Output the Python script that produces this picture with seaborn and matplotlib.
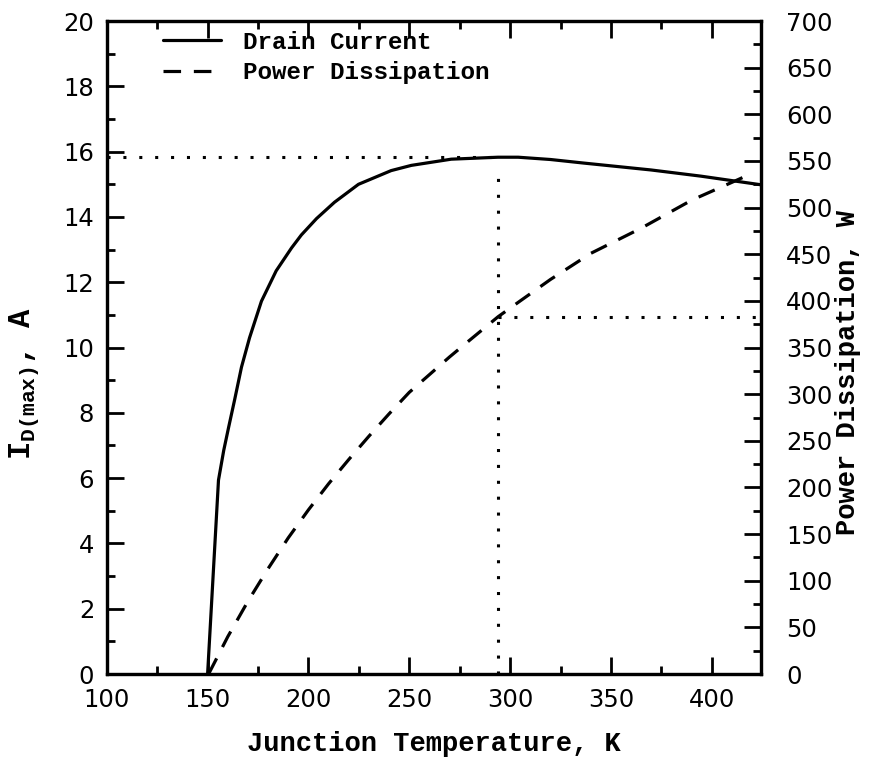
import matplotlib
matplotlib.use("Agg")
import matplotlib.pyplot as plt
import seaborn as sns
import pandas as pd
from matplotlib.ticker import MultipleLocator
from matplotlib.lines import Line2D

# ---- data ----
temp_drain = [150, 153, 155.4, 158, 160.4, 163.4, 166.8, 170.8, 176.7, 184, 191.6,
              196.5, 204, 212.9, 224.8, 241, 251, 270.8, 294, 304, 320, 336.6,
              369.8, 394.6, 425]
drain_current = [0, 3.3, 5.94, 6.85, 7.55, 8.4, 9.4, 10.3, 11.42, 12.35, 13.05,
                 13.45, 13.95, 14.45, 15.0, 15.42, 15.58, 15.77, 15.83, 15.83, 15.76, 15.65,
                 15.44, 15.25, 14.98]

temp_power = [150.5, 160, 170, 180, 190, 200, 210, 220, 230, 240, 250, 260, 270,
              280, 294, 305, 320, 340, 365, 390, 414, 418]
power = [0, 40, 78, 113, 146, 176, 204, 230, 255, 279, 302, 321, 340,
         358, 383, 400, 423, 451, 478, 508, 531, 535]

ref_temp = 294
ref_current = 15.83
ref_power = 383

x_ticks = [100, 150, 200, 250, 300, 350, 400]
left_ticks = [0, 2, 4, 6, 8, 10, 12, 14, 16, 18, 20]
right_ticks = list(range(0, 701, 50))

df_d = pd.DataFrame({"T": temp_drain, "I": drain_current})
df_p = pd.DataFrame({"T": temp_power, "P": power})

sns.set_style("ticks")
plt.rcParams["font.family"] = ["DejaVu Sans"]
plt.rcParams["text.color"] = "black"
plt.rcParams["axes.labelcolor"] = "black"
plt.rcParams["xtick.color"] = "black"
plt.rcParams["ytick.color"] = "black"
plt.rcParams["mathtext.fontset"] = "custom"
plt.rcParams["mathtext.rm"] = "Liberation Mono:bold"
plt.rcParams["mathtext.default"] = "rm"

fig = plt.figure(figsize=(8.75, 7.61), dpi=100)
ax = fig.add_axes([0.122, 0.1143, 0.748, 0.858])
ax2 = ax.twinx()

lw = 2.3
sns.lineplot(data=df_d, x="T", y="I", ax=ax, color="black", lw=lw, sort=False,
             estimator=None)
sns.lineplot(data=df_p, x="T", y="P", ax=ax2, color="black", lw=lw, sort=False,
             estimator=None)
ax2.lines[0].set_linestyle((0, (5.5, 4)))

dot = dict(color="black", lw=2.2, linestyle=(0, (1, 4.2)))
ax.plot([100, ref_temp], [ref_current, ref_current], **dot)
ax.plot([ref_temp, ref_temp], [0, ref_current - 0.4], **dot)
ax2.plot([ref_temp, 425], [ref_power, ref_power], **dot)

ax.set_xlim(100, 424.5)
ax.set_ylim(0, 20)
ax2.set_ylim(0, 700)

ax.set_xticks(x_ticks)
ax.xaxis.set_minor_locator(MultipleLocator(25))
ax.set_yticks(left_ticks)
ax.yaxis.set_minor_locator(MultipleLocator(1))
ax2.set_yticks(right_ticks)
ax2.yaxis.set_minor_locator(MultipleLocator(25))

tick_fs = 17.5
ax.tick_params(axis="y", which="major", direction="in", length=12, width=2,
               labelsize=tick_fs, right=False, pad=9)
ax.tick_params(axis="x", which="major", direction="in", length=12, width=2,
               labelsize=tick_fs, top=True, pad=10)
ax.tick_params(axis="both", which="minor", direction="in", length=6, width=2,
               top=True, right=False)
ax2.tick_params(axis="y", which="major", direction="in", length=12, width=2,
                labelsize=tick_fs, pad=18)
ax2.tick_params(axis="y", which="minor", direction="in", length=6, width=2)

for a in (ax, ax2):
    for s in a.spines.values():
        s.set_linewidth(2.3)
        s.set_color("black")

lab_font = dict(family="Liberation Mono", weight="bold", size=19.5)
ax.set_xlabel("Junction Temperature, K", labelpad=14, **lab_font)
ax.set_ylabel(r"I$_{\mathrm{D(max)}}$, A", family="Liberation Mono",
              weight="bold", size=22)
ax.yaxis.set_label_coords(-0.1, 0.445)
ax2.set_ylabel("Power Dissipation, W", **lab_font)
ax2.yaxis.set_label_coords(1.112, 0.462)

handles = [Line2D([], [], color="black", lw=lw),
           Line2D([], [], color="black", lw=lw, linestyle=(0, (5.5, 4)))]
leg = ax.legend(handles, ["Drain Current", "Power Dissipation"], loc="upper left",
                bbox_to_anchor=(0.086, 0.985), frameon=False, borderpad=0,
                borderaxespad=0, handlelength=2.4, handletextpad=0.9,
                labelspacing=0.3,
                prop=dict(family="Liberation Mono", weight="bold", size=17.5))

fig.savefig("out.png", dpi=100)
